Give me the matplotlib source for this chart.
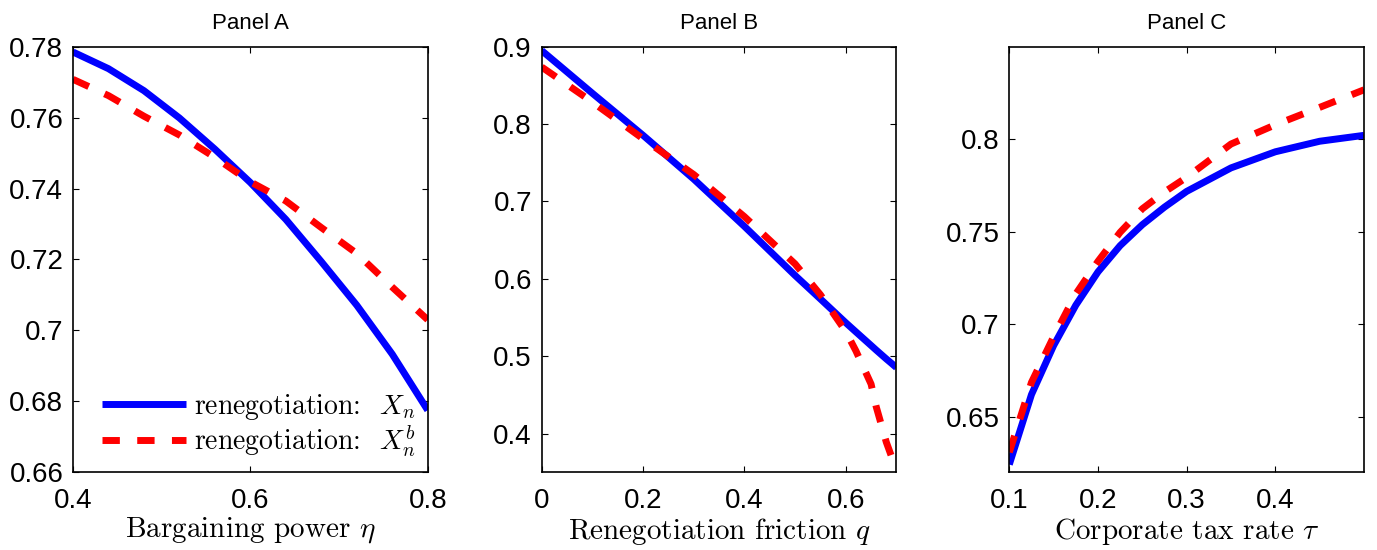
import numpy as np
import matplotlib
matplotlib.use("Agg")
import matplotlib.pyplot as plt

plt.rcParams["font.family"] = ["Liberation Sans", "DejaVu Sans"]
plt.rcParams["mathtext.fontset"] = "cm"
plt.rcParams["axes.unicode_minus"] = False

# Panel A: bargaining power eta
eta = [0.40, 0.44, 0.48, 0.52, 0.56, 0.60, 0.64, 0.68, 0.72, 0.76, 0.80]
xn_eta = [0.7785, 0.7738, 0.7676, 0.7599, 0.7511, 0.7417, 0.7313, 0.7194, 0.7071, 0.6933, 0.6775]
xnb_eta = [0.7708, 0.7662, 0.7604, 0.7551, 0.7488, 0.7419, 0.7365, 0.7290, 0.7217, 0.7122, 0.7030]

# Panel B: renegotiation friction q
q = [0.00, 0.10, 0.20, 0.30, 0.40, 0.50, 0.55, 0.60, 0.62, 0.65, 0.66, 0.68, 0.69, 0.70]
xn_q = [0.895, 0.8398, 0.7855, 0.7289, 0.6678, 0.6044, 0.5740, 0.5433, 0.5315, 0.5139, 0.5080, 0.4965, 0.4910, 0.4853]
xnb_q = [0.8737, 0.8285, 0.7810, 0.7348, 0.6804, 0.6193, 0.5795, 0.5320, 0.5070, 0.4640, 0.4350, 0.3890, 0.3710, 0.3400]

# Panel C: corporate tax rate tau
tau = [0.100, 0.125, 0.150, 0.175, 0.200, 0.225, 0.250, 0.275, 0.300, 0.350, 0.400, 0.450, 0.500]
xn_tau = [0.6242, 0.6620, 0.6885, 0.7103, 0.7283, 0.7425, 0.7538, 0.7633, 0.7718, 0.7845, 0.7932, 0.7989, 0.8021]
xnb_tau = [0.6308, 0.6686, 0.6933, 0.7164, 0.7340, 0.7497, 0.7624, 0.7715, 0.7794, 0.7974, 0.8078, 0.8172, 0.8267]

panels = [
    ("Panel A", eta, xn_eta, xnb_eta, r"Bargaining power $\eta$",
     (0.4, 0.8), [0.4, 0.6, 0.8], (0.66, 0.78), [0.66, 0.68, 0.70, 0.72, 0.74, 0.76, 0.78],
     ["0.66", "0.68", "0.7", "0.72", "0.74", "0.76", "0.78"], ["0.4", "0.6", "0.8"]),
    ("Panel B", q, xn_q, xnb_q, r"Renegotiation friction $q$",
     (0.0, 0.7), [0, 0.2, 0.4, 0.6], (0.35, 0.9), [0.4, 0.5, 0.6, 0.7, 0.8, 0.9],
     ["0.4", "0.5", "0.6", "0.7", "0.8", "0.9"], ["0", "0.2", "0.4", "0.6"]),
    ("Panel C", tau, xn_tau, xnb_tau, r"Corporate tax rate $\tau$",
     (0.1, 0.5), [0.1, 0.2, 0.3, 0.4], (0.62, 0.85), [0.65, 0.70, 0.75, 0.80],
     ["0.65", "0.7", "0.75", "0.8"], ["0.1", "0.2", "0.3", "0.4"]),
]

fig = plt.figure(figsize=(13.77, 5.5), dpi=100)
lefts = [73 / 1377, 541.7 / 1377, 1009.3 / 1377]
for left, (title, x, xn, xnb, xlabel, xlim, xt, ylim, yt, ytl, xtl) in zip(lefts, panels):
    ax = fig.add_axes([left, 0.1413, 0.2576, 0.7738])
    ax.plot(x, xn, color="#0000ff", lw=5, solid_capstyle="butt",
            label=r"renegotiation:  $X_n$")
    ax.plot(x, xnb, color="#ff0000", lw=5, dashes=(2.5, 2.5), dash_capstyle="butt",
            label=r"renegotiation:  $X_n^b$")
    ax.set_xlim(*xlim)
    ax.set_ylim(*ylim)
    ax.set_xticks(xt)
    ax.set_xticklabels(xtl)
    ax.set_yticks(yt)
    ax.set_yticklabels(ytl)
    ax.tick_params(direction="in", top=True, right=True, length=4, width=0.8,
                   labelsize=20)
    ax.tick_params(axis="x", pad=11)
    ax.tick_params(axis="y", pad=7)
    for s in ax.spines.values():
        s.set_linewidth(1.2)
    ax.set_title(title, fontsize=16, pad=12.5)
    ax.set_xlabel(xlabel, fontsize=21, family="cmr10", labelpad=1.5)
    if title == "Panel A":
        ax.legend(loc="lower right", bbox_to_anchor=(1.0, 0.0), frameon=False,
                  handlelength=3.0, handletextpad=0.3, labelspacing=0.05,
                  borderaxespad=0.0, borderpad=0.45,
                  prop={"family": "cmr10", "size": 20})

fig.savefig("out.png", dpi=100)
